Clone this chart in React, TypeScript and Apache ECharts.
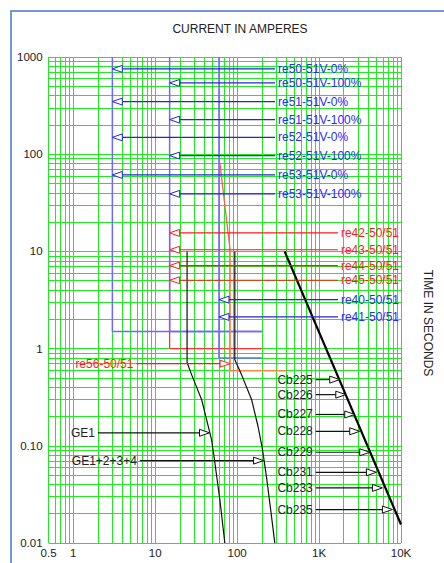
import React, { useEffect, useRef } from "react";
import * as echarts from "echarts";

// ---- axis ticks ----
const xTickValues = [0.5, 1, 10, 100, 1000, 10000];
const xTickLabels = ["0.5", "1", "10", "100", "1K", "10K"];
const yTickValues = [0.01, 0.1, 1, 10, 100, 1000];
const yTickLabels = ["0.01", "0.10", "1", "10", "100", "1000"];

// ---- curves [current (A), time (s)] ----
const re51V0 = [[3, 1000], [3, 1.5], [200, 1.5]];
const re51V100 = [[15, 1000], [15, 1.5], [200, 1.5]];
const re4041 = [[60, 1000], [60, 0.8], [200, 0.8]];
const re4245 = [[15, 20], [15, 1], [200, 1]];
const re56Upper = [[61.5, 82], [82, 10.4]];
const re56Lower = [[82, 10.4], [82, 0.59], [400, 0.59]];
const ge1 = [[24.5, 10], [24.5, 0.72], [27.8, 0.54], [36.8, 0.3], [42.4, 0.186], [48.7, 0.116], [53.5, 0.067], [61.5, 0.028], [70.8, 0.01]];
const ge1234 = [[93.7, 10], [93.7, 0.77], [113, 0.54], [150, 0.3], [180, 0.158], [204, 0.0914], [228, 0.048], [263, 0.0187], [288, 0.01]];
const cable = [[380, 10], [10000, 0.0155]];

// ---- callouts ----
const blueRelayNames = ["re50-51V-0%", "re50-51V-100%", "re51-51V-0%", "re51-51V-100%", "re52-51V-0%", "re52-51V-100%", "re53-51V-0%", "re53-51V-100%"];
const blueRelayTimes = [755, 541, 348, 227, 149, 96.8, 61.2, 39.1];
const blueRelayTips = [3, 15, 3, 15, 3, 15, 3, 15];
const blueRelayTail = 290;

const redRelayNames = ["re42-50/51", "re43-50/51", "re44-50/51", "re45-50/51"];
const redRelayTimes = [15.5, 10.4, 7.15, 5.05];
const redRelayTip = 15;
const blue2Names = ["re40-50/51", "re41-50/51"];
const blue2Times = [3.19, 2.12];
const blue2Tip = 60;
const rightTail = 1700;

const re56Names = ["re56-50/51"];
const re56Times = [0.7];
const re56Tails = [5.9];
const re56Tips = [82];

const geNames = ["GE1", "GE1+2+3+4"];
const geTimes = [0.136, 0.0704];
const geTails = [2.0, 6.5];
const geTips = [46, 210];

const cbNames = ["Cb225", "Cb226", "Cb227", "Cb228", "Cb229", "Cb231", "Cb233", "Cb235"];
const cbTimes = [0.48, 0.336, 0.21, 0.141, 0.0858, 0.0534, 0.0369, 0.0221];
const cbTips = [1787, 2118, 2725, 3133, 4150, 5012, 5933, 7855];
const cbTail = 912;

const FONT = '"Liberation Sans", Arial, Helvetica, sans-serif';

function buildGrid(): { xs: number[]; ys: number[] } {
  const xs: number[] = [0.5, 0.6, 0.7, 0.8, 0.9];
  for (let d = 1; d <= 1000; d *= 10) for (let m = 1; m <= 9; m++) xs.push(m * d);
  xs.push(10000);
  const ys: number[] = [];
  for (let d = 0.01; d < 500; d *= 10) for (let m = 1; m <= 9; m++) ys.push(+(m * d).toPrecision(3));
  ys.push(1000);
  return { xs, ys };
}

function lookup(v: number, vals: number[], labels: string[]): string {
  for (let i = 0; i < vals.length; i++) {
    if (Math.abs(Math.log10(v) - Math.log10(vals[i])) < 0.01) return labels[i];
  }
  return "";
}

function callout(names: string[], lineColor: string, textColor: string) {
  return (params: any, api: any) => {
    const tail = api.coord([api.value(0), api.value(2)]);
    const tip = api.coord([api.value(1), api.value(2)]);
    const dir = tip[0] > tail[0] ? 1 : -1;
    const head = 10;
    const half = 3.5;
    const base = tip[0] - dir * head;
    const y = tip[1];
    const align = dir > 0 ? "right" : "left";
    return {
      type: "group",
      children: [
        { type: "line", shape: { x1: tail[0], y1: y, x2: base, y2: y }, style: { stroke: lineColor, lineWidth: 1.2 } },
        { type: "polygon", shape: { points: [[base, y - half], [tip[0], y], [base, y + half]] }, style: { fill: "#ffffff", stroke: lineColor, lineWidth: 1 } },
        {
          type: "text",
          x: tail[0] - dir * 3,
          y,
          style: { text: names[params.dataIndex], fill: textColor, font: "12px " + FONT, align, verticalAlign: "middle", textAlign: align, textVerticalAlign: "middle" },
        },
      ],
    };
  };
}

function curve(name: string, data: number[][], color: string, width: number, z = 3) {
  return { name, type: "line", data, showSymbol: false, symbol: "none", lineStyle: { color, width }, z, silent: true, clip: true };
}

function calloutSeries(name: string, names: string[], tails: number[], tips: number[], times: number[], lineColor: string, textColor: string) {
  return {
    name,
    type: "custom",
    renderItem: callout(names, lineColor, textColor),
    data: names.map((_, i) => [tails[i], tips[i], times[i]]),
    encode: { x: [0, 1], y: 2 },
    z: 5,
    silent: true,
    clip: false,
  };
}

export default function App() {
  const ref = useRef<HTMLDivElement>(null);
  useEffect(() => {
    if (!ref.current) return;
    const chart = echarts.init(ref.current, undefined, { renderer: "svg" });
    const { xs, ys } = buildGrid();
    const gridColor = "#22ea22";
    const option: any = {
      animation: false,
      backgroundColor: "#ffffff",
      grid: { left: 48.6, top: 57, width: 352.4, height: 486, containLabel: false },
      xAxis: {
        type: "log",
        logBase: 10,
        min: 0.5,
        max: 10000,
        axisLine: { show: false },
        axisTick: { show: false },
        splitLine: { show: false },
        axisLabel: {
          margin: 4,
          color: "#222",
          fontSize: 11.5,
          fontFamily: FONT,
          showMinLabel: true,
          showMaxLabel: true,
          formatter: (v: number) => lookup(v, xTickValues, xTickLabels),
        },
      },
      yAxis: {
        type: "log",
        logBase: 10,
        min: 0.01,
        max: 1000,
        axisLine: { show: false },
        axisTick: { show: false },
        splitLine: { show: false },
        axisLabel: {
          margin: 6,
          color: "#222",
          fontSize: 11.5,
          fontFamily: FONT,
          showMinLabel: true,
          showMaxLabel: true,
          formatter: (v: number) => lookup(v, yTickValues, yTickLabels),
        },
      },
      graphic: [
        { type: "rect", silent: true, z: -10, shape: { x: 11, y: 11, width: 460, height: 580 }, style: { fill: "none", stroke: "#7199d3", lineWidth: 2 } },
        { type: "text", x: 240, y: 29, style: { text: "CURRENT IN AMPERES", fill: "#222", font: "12px " + FONT, align: "center", verticalAlign: "middle", textAlign: "center", textVerticalAlign: "middle" } },
        { type: "text", x: 428, y: 323, rotation: -Math.PI / 2, style: { text: "TIME IN SECONDS", fill: "#222", font: "12px " + FONT, align: "center", verticalAlign: "middle", textAlign: "center", textVerticalAlign: "middle" } },
      ],
      series: [
        {
          name: "grid",
          type: "line",
          data: [[0.5, 0.01]],
          showSymbol: false,
          symbol: "none",
          lineStyle: { width: 0 },
          z: 0,
          silent: true,
          markLine: {
            silent: true,
            z: 0,
            symbol: ["none", "none"],
            label: { show: false },
            lineStyle: { color: gridColor, width: 1, type: "solid" },
            emphasis: { disabled: true },
            data: [...xs.map((v) => ({ xAxis: v })), ...ys.map((v) => ({ yAxis: v }))],
          },
        },
        curve("re51V-0", re51V0, "#6a6aff", 1.5),
        curve("re51V-100", re51V100, "#6a6aff", 1.5),
        curve("re40/41", re4041, "#6a6aff", 1.5),
        curve("re42-45", re4245, "#ff3030", 1.3, 2),
        curve("re56 upper", re56Upper, "#ff5a5a", 1.3),
        curve("re56 lower", re56Lower, "#f08a45", 1.5),
        curve("GE1", ge1, "#111111", 1.2),
        curve("GE1+2+3+4", ge1234, "#111111", 1.2),
        curve("cable", cable, "#000000", 2.2),
        calloutSeries("blue relays", blueRelayNames, blueRelayNames.map(() => blueRelayTail), blueRelayTips, blueRelayTimes, "#2424d8", "#2a2aff"),
        calloutSeries("red relays", redRelayNames, redRelayNames.map(() => rightTail), redRelayNames.map(() => redRelayTip), redRelayTimes, "#ff1a1a", "#ff1a1a"),
        calloutSeries("blue relays 2", blue2Names, blue2Names.map(() => rightTail), blue2Names.map(() => blue2Tip), blue2Times, "#2424d8", "#2a2aff"),
        calloutSeries("re56", re56Names, re56Tails, re56Tips, re56Times, "#ff1a1a", "#ff1a1a"),
        calloutSeries("GE", geNames, geTails, geTips, geTimes, "#111111", "#222222"),
        calloutSeries("cables", cbNames, cbNames.map(() => cbTail), cbTips, cbTimes, "#111111", "#222222"),
      ],
    };
    chart.setOption(option);
    return () => chart.dispose();
  }, []);
  return <div ref={ref} style={{ position: "fixed", left: 0, top: 0, width: 444, height: 563 }} />;
}
